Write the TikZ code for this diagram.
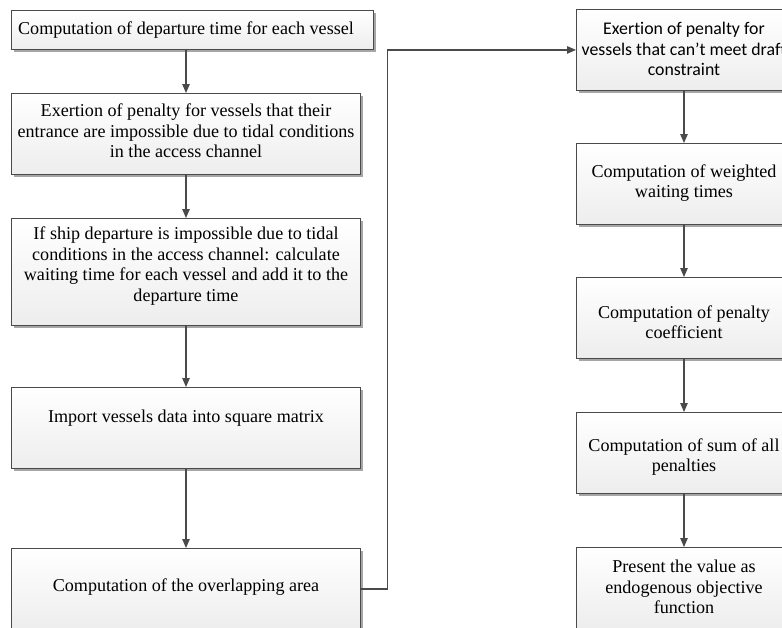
\documentclass[tikz,border=0pt]{standalone}
\usepackage{fontspec}
\setmainfont{Liberation Serif}
\newfontfamily\calib[Ligatures=NoCommon]{Carlito}
\usetikzlibrary{arrows.meta,shadows,calc}
\definecolor{edge}{HTML}{4A4A4A}
\tikzset{
  box/.style={draw=edge, line width=0.9pt, top color=white, bottom color=gray!14,
    inner sep=0pt, anchor=north west,
    drop shadow={shadow xshift=2.2pt, shadow yshift=-2.2pt, fill=black!35, opacity=1}},
  txt/.style={align=center, inner sep=0pt, font=\fontsize{18.1}{20.5}\selectfont, text=black},
  stxt/.style={align=center, inner sep=0pt, font=\calib\fontsize{17.8}{20.5}\selectfont, text=black},
  arr/.style={draw=edge, line width=1.1pt, -{Triangle[length=9pt,width=7.5pt]}},
}
\begin{document}
\begin{tikzpicture}[x=1pt,y=-1pt]
\useasboundingbox (0,0) rectangle (782,627);
\clip (0,0) rectangle (782,627);
% left column boxes
\node[box, minimum width=362pt, minimum height=39pt] (b1) at (11,10) {};
\node[box, minimum width=349pt, minimum height=81pt] (b2) at (11,93) {};
\node[box, minimum width=349pt, minimum height=107pt] (b3) at (11,218) {};
\node[box, minimum width=349pt, minimum height=81pt] (b4) at (11,387) {};
\node[box, minimum width=349pt, minimum height=81pt] (b5) at (11,548) {};
% right column boxes
\node[box, minimum width=216pt, minimum height=81pt] (r1) at (576,9) {};
\node[box, minimum width=216pt, minimum height=81pt] (r2) at (576,143) {};
\node[box, minimum width=216pt, minimum height=81pt] (r3) at (576,277) {};
\node[box, minimum width=216pt, minimum height=81pt] (r4) at (576,412) {};
\node[box, minimum width=216pt, minimum height=81pt] (r5) at (576,547) {};
% texts
\node[txt] (t1) at (186,30) {Computation of departure time for each vessel};
\node[txt] (t2) at (186,131) {Exertion of penalty for vessels that their\\entrance are impossible due to tidal conditions\\in the access channel};
\node[txt] (t3) at (186,266) {If ship departure is impossible due to tidal\\conditions in the access channel: calculate\\waiting time for each vessel and add it to the\\departure time};
\node[txt] (t4) at (186,418) {Import vessels data into square matrix};
\node[txt] (t5) at (186,587) {Computation of the overlapping area};
\node[stxt] (u1) at (684,49) {Exertion of penalty for\\vessels that can’t meet draft\\constraint};
\node[txt] (u2) at (684,183) {Computation of weighted\\waiting times};
\node[txt] (u3) at (684,322) {Computation of penalty\\coefficient};
\node[txt] (u4) at (684,457) {Computation of sum of all\\penalties};
\node[txt] (u5) at (684,587) {Present the value as\\endogenous objective\\function};
% connectors
\draw[arr] (b1.south -| t1) -- (b2.north -| t1);
\draw[arr] (b2.south -| t2) -- (b3.north -| t2);
\draw[arr] (b3.south -| t3) -- (b4.north -| t3);
\draw[arr] (b4.south -| t4) -- (b5.north -| t4);
\draw[arr] (b5.east) -- ++(27,0) |- (r1.west);
\draw[arr] (r1.south -| u1) -- (r2.north -| u1);
\draw[arr] (r2.south -| u2) -- (r3.north -| u2);
\draw[arr] (r3.south -| u3) -- (r4.north -| u3);
\draw[arr] (r4.south -| u4) -- (r5.north -| u4);
\end{tikzpicture}
\end{document}
